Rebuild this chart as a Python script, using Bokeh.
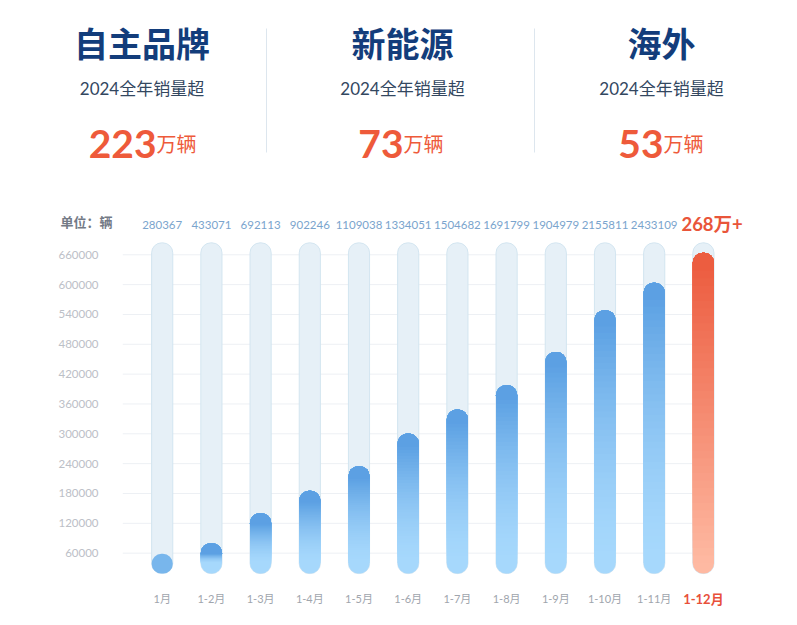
from bokeh.plotting import figure
from bokeh.models import Range1d, FixedTicker, ColumnDataSource
from bokeh.layouts import column
from bokeh.embed import file_html
from bokeh.resources import INLINE
from bokeh.core.properties import value

# ---------------- data ----------------
HEADER_TITLES = ["自主品牌", "新能源", "海外"]
HEADER_SUB = "2024全年销量超"
HEADER_NUMS = ["223", "73", "53"]
HEADER_UNIT = "万辆"

UNIT_LABEL = "单位：辆"
MONTHS = ["1月", "1-2月", "1-3月", "1-4月", "1-5月", "1-6月",
          "1-7月", "1-8月", "1-9月", "1-10月", "1-11月", "1-12月"]
VALUE_LABELS = ["280367", "433071", "692113", "902246", "1109038", "1334051",
                "1504682", "1691799", "1904979", "2155811", "2433109", "268万+"]
BAR_TOPS = [58800, 80100, 140500, 185600, 234600, 300400,
            348700, 397700, 464500, 548700, 603600, 664000]
TRACK_TOP = 684000
BASE = 19000
Y_TICKS = [60000, 120000, 180000, 240000, 300000, 360000,
           420000, 480000, 540000, 600000, 660000]
Y_TICK_LABELS = ["60000", "120000", "180000", "240000", "300000", "360000",
                 "420000", "480000", "540000", "600000", "660000"]

# ---------------- style / layout ----------------
CJK = "Noto Sans CJK SC"
NUM_FONT = "Lato, 'Noto Sans CJK SC'"
NAVY = "#133d7b"
RED = "#ee5a3a"
BLUE_TOP, BLUE_BOTTOM = "#5a9fe2", "#a6d8fc"
RED_TOP, RED_BOTTOM = "#ec5c3f", "#feb9a2"

W = 797
HEADER_H = 238
CHART_H = 625 - HEADER_H
FRAME_L, FRAME_R = 122, 765          # chart frame, page px
GRID_L = 122
PX0, PX_STEP = 161.7, 49.2          # first category centre / spacing, page px
Y_ZERO_PX, PX_PER_UNIT = 582.5, 0.0004973


def cat(px):
    return (px - PX0) / PX_STEP


def yval(px):
    return (Y_ZERO_PX - px) / PX_PER_UNIT


def hex2rgb(c):
    c = c.lstrip("#")
    return tuple(int(c[i:i + 2], 16) for i in (0, 2, 4))


def lerp(c0, c1, t):
    a, b = hex2rgb(c0), hex2rgb(c1)
    return "#%02x%02x%02x" % tuple(round(a[i] + (b[i] - a[i]) * t) for i in range(3))


n = len(MONTHS)
xs = list(range(n))

# ---------------- header ----------------
h = figure(width=W, height=HEADER_H, x_range=Range1d(cat(0), cat(W)), y_range=Range1d(HEADER_H, 0),
           output_backend="svg", toolbar_location=None, min_border=0,
           x_axis_type=None, y_axis_type=None, frame_align=False)
h.grid.visible = False
h.outline_line_color = None
h.background_fill_color = "white"
h.border_fill_color = "white"

col_x = [cat(v) for v in (141.5, 402, 661)]
join_x = [cat(v) for v in (156, 403, 663)]
sep_x = [cat(v) for v in (266, 534)]
h.segment(x0=sep_x, y0=[28, 28], x1=sep_x, y1=[152, 152], line_color="#dde6ee", line_width=1)
h.text(x=col_x, y=[41.5] * 3, text=HEADER_TITLES, text_align="center", text_baseline="middle",
       text_font=value(CJK), text_font_style="bold", text_font_size=value("34px"), text_color=NAVY)
h.text(x=col_x, y=[88] * 3, text=[HEADER_SUB] * 3, text_align="center", text_baseline="middle",
       text_font=value(NUM_FONT), text_font_size=value("17px"), text_color="#33475f")
h.text(x=join_x, y=[143] * 3, text=HEADER_NUMS, text_align="right", text_baseline="alphabetic",
       text_font=value("Lato"), text_font_style="bold", text_font_size=value("39px"), text_color=RED)
h.text(x=join_x, y=[143] * 3, text=[HEADER_UNIT] * 3, text_align="left", text_baseline="alphabetic",
       text_font=value(CJK), text_font_size=value("20px"), text_color=RED)

# unit label and value labels (share the chart's category scale)
h.text(x=[cat(60)], y=[221], text=[UNIT_LABEL], text_align="left", text_baseline="middle",
       text_font=value(CJK), text_font_style="bold", text_font_size=value("13px"), text_color="#737a86")
h.text(x=xs[:-1], y=[224] * (n - 1), text=VALUE_LABELS[:-1], text_align="center",
       text_baseline="middle", text_font=value(NUM_FONT), text_font_size=value("11.5px"),
       text_color="#7aa4cd")
h.text(x=[xs[-1]], y=[223], text=[VALUE_LABELS[-1]], x_offset=-22, text_align="left",
       text_baseline="middle", text_font=value(NUM_FONT), text_font_style="bold",
       text_font_size=value("18.5px"), text_color="#e9553a")

# ---------------- chart ----------------
p = figure(width=W, height=CHART_H, x_range=Range1d(cat(FRAME_L), cat(FRAME_R)),
           y_range=Range1d(yval(HEADER_H + CHART_H), yval(HEADER_H)),
           output_backend="svg", toolbar_location=None, frame_align=False,
           min_border_left=FRAME_L, min_border_right=W - FRAME_R, min_border_top=0, min_border_bottom=0,
           x_axis_location=None)
p.outline_line_color = None
p.background_fill_color = "white"
p.border_fill_color = "white"
p.grid.visible = False

# horizontal grid lines at the y ticks, ending under the last bar
p.segment(x0=[cat(GRID_L)] * len(Y_TICKS), x1=[xs[-1]] * len(Y_TICKS), y0=Y_TICKS, y1=Y_TICKS,
          line_color="#edf0f4", line_width=1)

BAR_W = 0.43
r_val = 10.5 / PX_PER_UNIT

# tracks
p.vbar(x=xs, width=BAR_W, bottom=BASE, top=TRACK_TOP, fill_color="#e6f0f7",
       line_color="#d3e5f0", line_width=1, border_radius=10)

# gradient bars
base_x, base_top, base_col = [], [], []
sl_x, sl_bot, sl_top, sl_col = [], [], [], []
N = 40
for i, t in enumerate(BAR_TOPS):
    top_c, bot_c = (RED_TOP, RED_BOTTOM) if i == n - 1 else (BLUE_TOP, BLUE_BOTTOM)
    gamma = 1.0 if i == n - 1 else 1.6
    span = t - BASE - 2 * r_val
    base_x.append(i)
    base_top.append(t)
    if span <= 0:
        base_col.append(lerp(bot_c, top_c, 0.6))
        continue
    base_col.append(bot_c)
    for k in range(N):
        yk = BASE + r_val + span * k / N
        sl_x.append(i)
        sl_bot.append(yk)
        sl_top.append(t)
        sl_col.append(lerp(bot_c, top_c, ((k + 0.5) / N) ** gamma))

p.vbar(x="x", top="top", bottom=BASE, width=BAR_W, fill_color="c", line_color=None,
       border_radius=10, source=ColumnDataSource(dict(x=base_x, top=base_top, c=base_col)))
p.vbar(x="x", top="top", bottom="bottom", width=BAR_W, fill_color="c", line_color=None,
       border_radius=(10, 10, 0, 0),
       source=ColumnDataSource(dict(x=sl_x, top=sl_top, bottom=sl_bot, c=sl_col)))

# month labels
MONTH_Y = yval(598)
p.text(x=xs[:-1], y=[MONTH_Y] * (n - 1), text=MONTHS[:-1], text_align="center", text_baseline="middle",
       text_font=value(NUM_FONT), text_font_size=value("11px"), text_color="#a0a5ad")
p.text(x=[xs[-1]], y=[MONTH_Y], text=[MONTHS[-1]], text_align="center", text_baseline="middle",
       text_font=value(NUM_FONT), text_font_style="bold", text_font_size=value("13px"),
       text_color="#e8503a")

# y axis
p.yaxis.ticker = FixedTicker(ticks=Y_TICKS)
p.yaxis.major_label_overrides = {t: s for t, s in zip(Y_TICKS, Y_TICK_LABELS)}
p.yaxis.axis_line_color = None
p.yaxis.major_tick_line_color = None
p.yaxis.minor_tick_line_color = None
p.yaxis.major_label_standoff = 18
p.yaxis.major_label_text_font = NUM_FONT
p.yaxis.major_label_text_font_size = "11.5px"
p.yaxis.major_label_text_color = "#bcc0c7"

layout = column(h, p, spacing=0)
open("out.html", "w").write(file_html(layout, INLINE))
